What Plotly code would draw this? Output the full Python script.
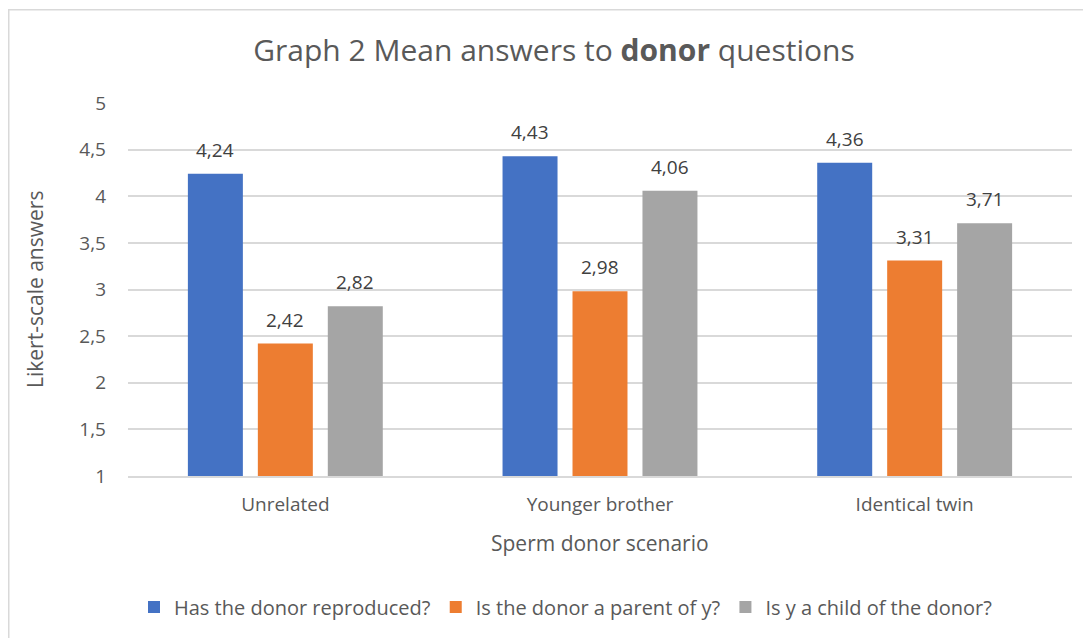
import plotly.graph_objects as go

categories = ["Unrelated", "Younger brother", "Identical twin"]
series_names = ["Has the donor reproduced?", "Is the donor a parent of y?", "Is y a child of the donor?"]
reproduced = [4.24, 4.43, 4.36]
parent = [2.42, 2.98, 3.31]
child = [2.82, 4.06, 3.71]
colors = ["#4472C4", "#ED7D31", "#A5A5A5"]

# page body has an 8px margin, so the figure is drawn 8px smaller and offset
OFF = 8
W, H = 1091 - OFF, 638 - OFF
ml, mr, mt, mb = 128 - OFF, 19, 103 - OFF, 162
pw = W - ml - mr
ph = H - mt - mb

def px_x(x):
    return (x - OFF - ml) / pw

def px_y(y):
    return (H - mb - (y - OFF)) / ph

font = "Open Sans"
txt = "#595959"

fig = go.Figure()
series = [reproduced, parent, child]
for name, vals, col in zip(series_names, series, colors):
    fig.add_trace(go.Bar(
        x=categories, y=vals, name=name,
        marker=dict(color=col, line=dict(width=0)),
        cliponaxis=False,
    ))

slot_px = (pw / 3) * (1 - 0.333) / 3
annotations = []
for i, vals in enumerate(series):
    for c, v in zip(categories, vals):
        annotations.append(dict(
            x=c, y=v, xref="x", yref="y", text=f"{v:.2f}".replace(".", ","),
            showarrow=False, xanchor="center", yanchor="bottom",
            xshift=(i - 1) * slot_px, yshift=9,
            font=dict(family=font, size=19, color="#404040")))

annotations += [
    dict(text="Likert-scale answers", xref="paper", yref="paper", x=px_x(35), y=px_y(290),
         xanchor="center", yanchor="middle", textangle=-90, showarrow=False,
         font=dict(family=font, size=21, color=txt)),
    dict(text="Sperm donor scenario", xref="paper", yref="paper", x=px_x(600), y=px_y(543),
         xanchor="center", yanchor="middle", showarrow=False,
         font=dict(family=font, size=21, color=txt)),
]

fig.update_layout(
    width=W, height=H,
    margin=dict(l=ml, r=mr, t=mt, b=mb),
    paper_bgcolor="white", plot_bgcolor="white",
    separators=",.",
    barmode="group", bargap=0.333, bargroupgap=0.214,
    font=dict(family=font, color=txt),
    title=dict(text="Graph 2 Mean answers to <b>donor</b> questions",
               x=(554 - OFF) / W, xanchor="center", y=1 - (50 - OFF) / H, yanchor="middle",
               font=dict(family=font, size=30, color=txt)),
    showlegend=True,
    legend=dict(orientation="h", x=px_x(566), xanchor="center", y=px_y(607), yanchor="middle",
                font=dict(family=font, size=20, color=txt), itemwidth=30,
                traceorder="normal"),
    xaxis=dict(showgrid=False, showline=True, linecolor="#d9d9d9", linewidth=1.5,
               tickfont=dict(family=font, size=19, color=txt), ticks="", ticklabelstandoff=10),
    yaxis=dict(range=[1, 5], dtick=0.5, showgrid=True, gridcolor="#d9d9d9", gridwidth=1.5,
               zeroline=False, showline=False, ticks="",
               tickfont=dict(family=font, size=19, color=txt), ticklabelstandoff=21),
    annotations=annotations,
    shapes=[dict(type="rect", xref="paper", yref="paper", x0=px_x(8.75), x1=px_x(1120),
                 y0=px_y(9.75), y1=px_y(680),
                 line=dict(color="#d9d9d9", width=1.5), layer="below")],
)

fig.write_html("out.html")
